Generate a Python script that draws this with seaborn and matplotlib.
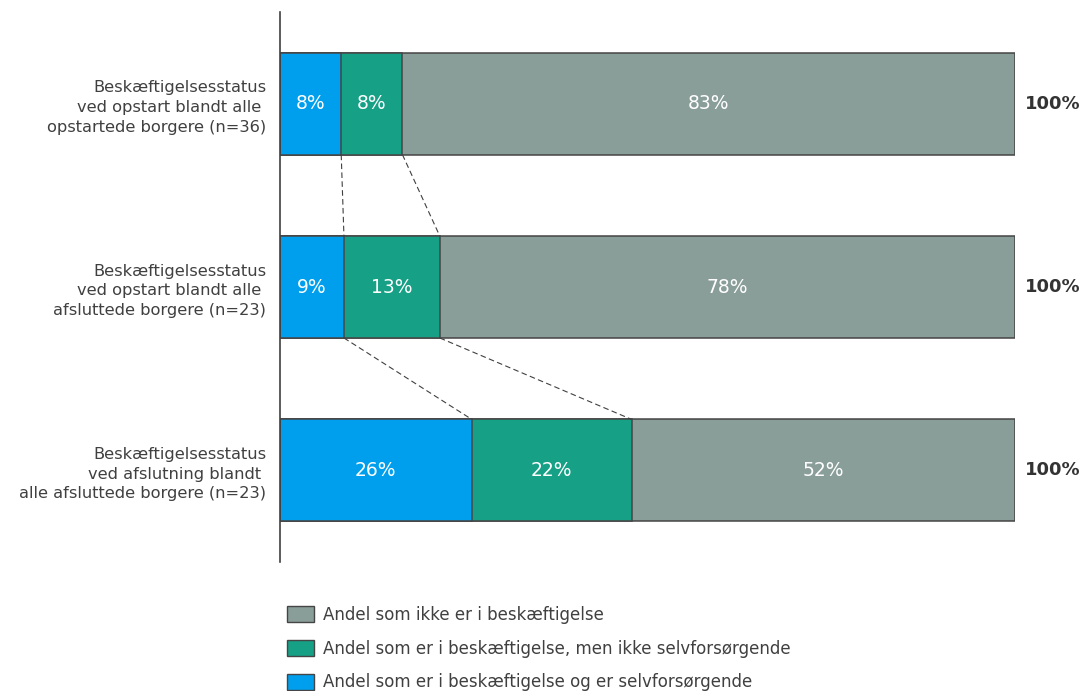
import matplotlib
matplotlib.use("Agg")
import matplotlib.pyplot as plt
from matplotlib.patches import Patch
import seaborn as sns
import pandas as pd
import numpy as np

# Category labels (y axis)
categories = [
    "Beskæftigelsesstatus\nved opstart blandt alle \nopstartede borgere (n=36)",
    "Beskæftigelsesstatus\nved opstart blandt alle \nafsluttede borgere (n=23)",
    "Beskæftigelsesstatus\nved afslutning blandt \nalle afsluttede borgere (n=23)",
]

# Shares in percent for each group
selvforsoergende = [8.33, 8.70, 26.09]
ikke_selvforsoergende = [8.33, 13.04, 21.74]
ikke_beskaeftigelse = [83.33, 78.26, 52.17]

series_names = [
    "Andel som er i beskæftigelse og er selvforsørgende",
    "Andel som er i beskæftigelse, men ikke selvforsørgende",
    "Andel som ikke er i beskæftigelse",
]
colors = ["#009FEE", "#16A085", "#899D99"]
edge = "#454545"
text_col = "#404040"

sns.set_theme(style="white")
plt.rcParams["font.family"] = ["DejaVu Sans"]

fig = plt.figure(figsize=(10.84, 6.91), dpi=100)
ax = fig.add_axes([0.2583, 0.1867, 0.6780, 0.7959])

vals = np.array([selvforsoergende, ikke_selvforsoergende, ikke_beskaeftigelse])
cum = np.cumsum(vals, axis=0)
bar_h = 0.556

# Draw cumulative totals from the longest down so the segments stack
for k in [2, 1, 0]:
    df = pd.DataFrame({"kategori": categories, "andel": cum[k]})
    sns.barplot(data=df, x="andel", y="kategori", order=categories,
                color=colors[k], saturation=1, width=bar_h,
                edgecolor=edge, linewidth=1.1, ax=ax)

# Segment value labels
for k in range(3):
    for i in range(len(categories)):
        start = cum[k][i] - vals[k][i]
        ax.text(start + vals[k][i] / 2, i, f"{vals[k][i]:.0f}%",
                ha="center", va="center", color="white", fontsize=13.5)

# Totals to the right of the bars
for i in range(len(categories)):
    ax.text(101.3, i, f"{cum[2][i]:.0f}%", ha="left", va="center",
            color="#333333", fontsize=13, fontweight="bold", clip_on=False)

# Dashed connectors between consecutive bars
for k in [0, 1]:
    for i in range(len(categories) - 1):
        ax.plot([cum[k][i], cum[k][i + 1]],
                [i + bar_h / 2, i + 1 - bar_h / 2],
                color="#404040", linestyle=(0, (5, 3)), linewidth=0.8)

ax.set_xlim(0, 100)
ax.set_ylim(2.5, -0.5)
ax.set_xlabel("")
ax.set_ylabel("")
ax.set_xticks([])
ax.tick_params(axis="y", length=0, pad=10, labelsize=11.7, labelcolor=text_col)
for lbl in ax.get_yticklabels():
    lbl.set_horizontalalignment("right")
    lbl.set_linespacing(1.38)
for s in ["top", "right", "bottom"]:
    ax.spines[s].set_visible(False)
ax.spines["left"].set_color("#404040")
ax.spines["left"].set_linewidth(1.2)

handles = [Patch(facecolor=colors[k], edgecolor=edge, linewidth=1.0)
           for k in [2, 1, 0]]
labels = [series_names[k] for k in [2, 1, 0]]
fig.legend(handles, labels, loc="upper left", bbox_to_anchor=(0.259, 0.133),
           frameon=False, fontsize=12, labelcolor=text_col,
           handlelength=1.6, handleheight=1.1, handletextpad=0.55,
           labelspacing=0.95, borderaxespad=0)

fig.savefig("out.png", dpi=100, facecolor="white")
